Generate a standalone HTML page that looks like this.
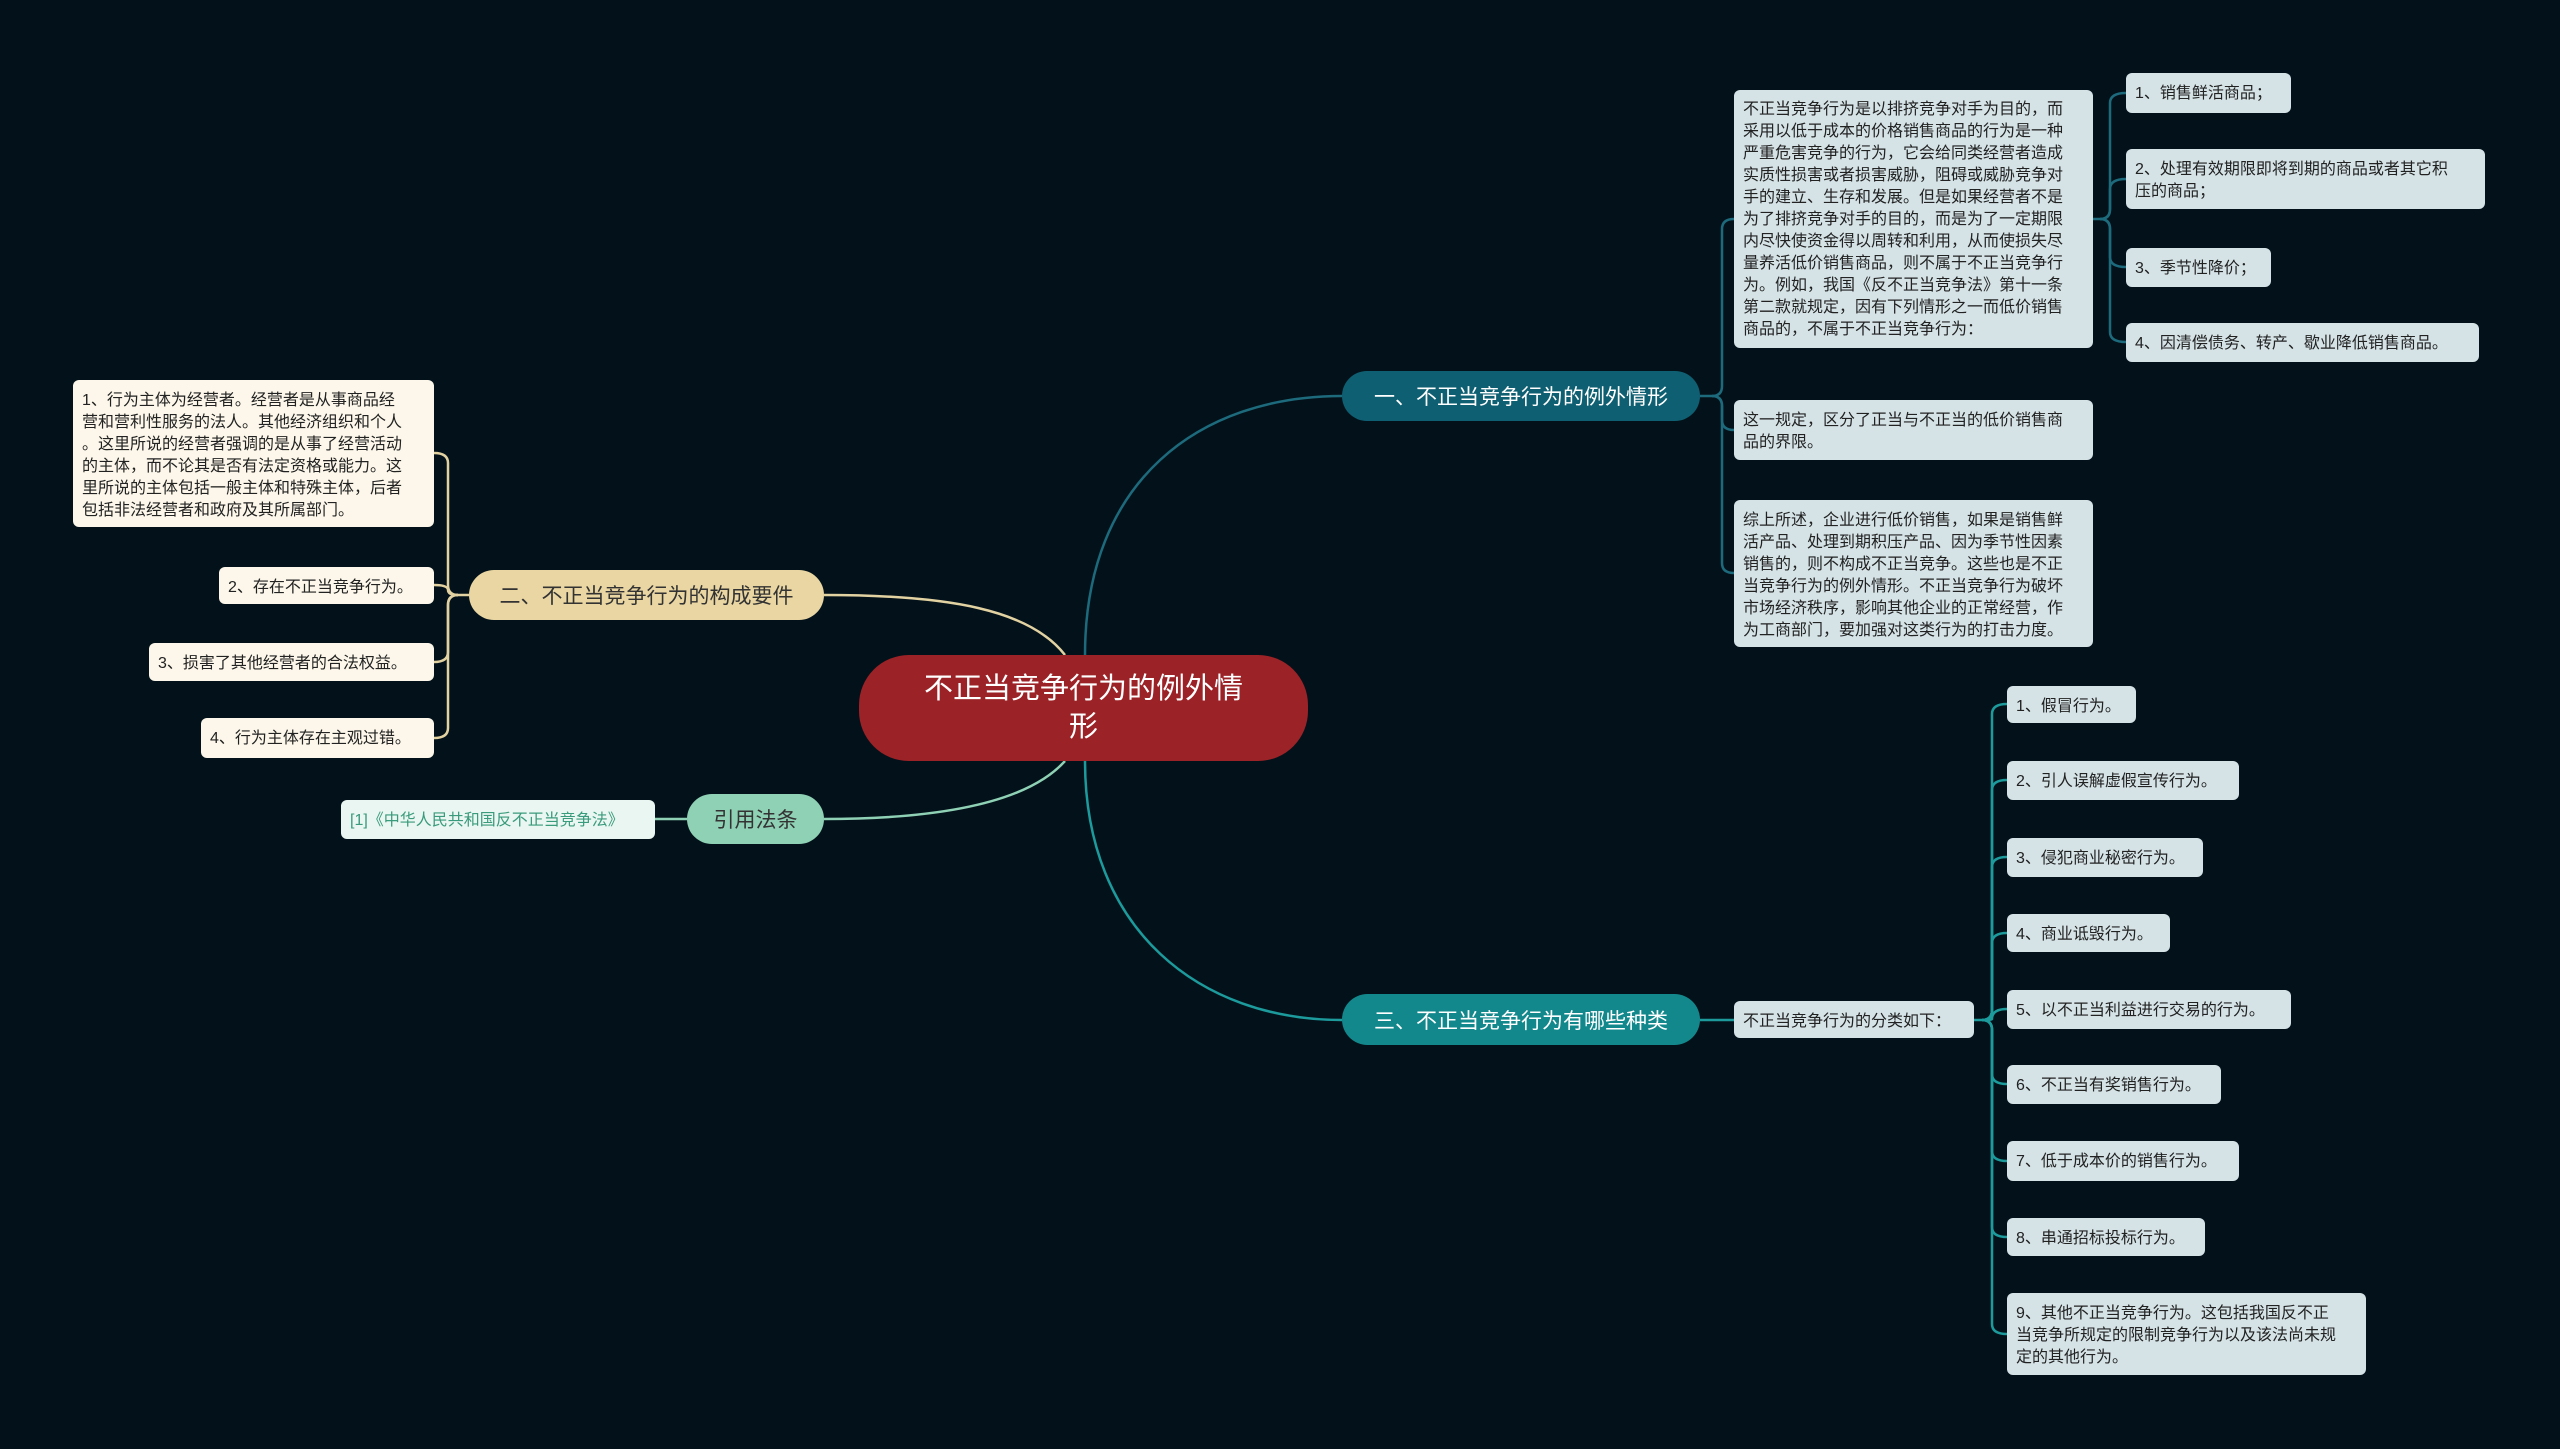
<!DOCTYPE html>
<html><head><meta charset="utf-8"><style>
html,body{margin:0;padding:0}
body{width:2560px;height:1449px;background:#03121a;position:relative;overflow:hidden;font-family:"Liberation Sans","Noto Sans CJK SC",sans-serif}
.b{position:absolute;box-sizing:border-box;border-radius:6px;font-size:16px;line-height:22px;padding:10px 9px 6px;white-space:nowrap;color:#222}
.r{background:#d5e3e7}
.c{background:#fcf7ea}
.n{position:absolute;box-sizing:border-box;display:flex;align-items:center;justify-content:center;border-radius:26px;font-size:21px}
svg{position:absolute;left:0;top:0}
</style></head><body>
<svg width="2560" height="1449" fill="none" stroke-width="2.5">
<g stroke="#1d6a7c">
<path d="M1085,655 C1085,480 1200,396 1342,396"/>
<path d="M1700,396 L1712,396"/>
<path d="M1712,396 Q1722,396 1722,386 L1722,229 Q1722,219 1734,219"/>
<path d="M1712,396 Q1722,396 1722,406 L1722,420 Q1722,430 1734,430"/>
<path d="M1712,396 Q1722,396 1722,406 L1722,563 Q1722,573 1734,573"/>
<path d="M2093,219 L2100,219"/>
<path d="M2100,219 Q2110,219 2110,209 L2110,103 Q2110,93 2126,93"/>
<path d="M2100,219 Q2110,219 2110,209 L2110,189 Q2110,179 2126,179"/>
<path d="M2100,219 Q2110,219 2110,229 L2110,257 Q2110,267 2126,267"/>
<path d="M2100,219 Q2110,219 2110,229 L2110,332 Q2110,342 2126,342"/>
</g>
<g stroke="#1c9a9c">
<path d="M1085,761 C1085,930 1200,1020 1342,1020"/>
<path d="M1700,1020 L1734,1020"/>
<path d="M1974,1020 L1982,1020"/>
<path d="M1982,1020 Q1992,1020 1992,1010 L1992,714 Q1992,704 2007,704"/>
<path d="M1982,1020 Q1992,1020 1992,1010 L1992,790 Q1992,780 2007,780"/>
<path d="M1982,1020 Q1992,1020 1992,1010 L1992,867 Q1992,857 2007,857"/>
<path d="M1982,1020 Q1992,1020 1992,1010 L1992,943 Q1992,933 2007,933"/>
<path d="M1982,1020 Q1992,1020 1992,1019 Q1992,1009 2007,1009"/>
<path d="M1982,1020 Q1992,1020 1992,1030 L1992,1074 Q1992,1084 2007,1084"/>
<path d="M1982,1020 Q1992,1020 1992,1030 L1992,1151 Q1992,1161 2007,1161"/>
<path d="M1982,1020 Q1992,1020 1992,1030 L1992,1227 Q1992,1237 2007,1237"/>
<path d="M1982,1020 Q1992,1020 1992,1030 L1992,1324 Q1992,1334 2007,1334"/>
</g>
<g stroke="#e2d2a2">
<path d="M1065,655 C1030,610 950,595 824,595"/>
<path d="M469,595 L458,595"/>
<path d="M458,595 Q448,595 448,585 L448,463 Q448,453 434,453"/>
<path d="M458,595 Q448,595 448,590 Q448,585 434,585"/>
<path d="M458,595 Q448,595 448,605 L448,652 Q448,662 434,662"/>
<path d="M458,595 Q448,595 448,605 L448,728 Q448,738 434,738"/>
</g>
<g stroke="#8fd1b5">
<path d="M1065,761 C1030,800 950,819 824,819"/>
<path d="M687,819 L655,819"/>
</g>
</svg>

<div class="n" style="left:859px;top:655px;width:449px;height:106px;border-radius:50px;background:#9b2226;color:#fff;font-size:29px;line-height:38px;text-align:center">不正当竞争行为的例外情<br>形</div>
<div class="n" style="left:1342px;top:371px;width:358px;height:50px;background:#0f5f72;color:#fff">一、不正当竞争行为的例外情形</div>
<div class="n" style="left:1342px;top:994px;width:358px;height:51px;background:#13888c;color:#fff">三、不正当竞争行为有哪些种类</div>
<div class="n" style="left:469px;top:570px;width:355px;height:50px;background:#e9d6a2;color:#333">二、不正当竞争行为的构成要件</div>
<div class="n" style="left:687px;top:794px;width:137px;height:50px;background:#8fd1b5;color:#333">引用法条</div>

<div class="b r" style="left:1734px;top:90px;width:359px;height:258px;padding-top:9px">不正当竞争行为是以排挤竞争对手为目的，而<br>采用以低于成本的价格销售商品的行为是一种<br>严重危害竞争的行为，它会给同类经营者造成<br>实质性损害或者损害威胁，阻碍或威胁竞争对<br>手的建立、生存和发展。但是如果经营者不是<br>为了排挤竞争对手的目的，而是为了一定期限<br>内尽快使资金得以周转和利用，从而使损失尽<br>量养活低价销售商品，则不属于不正当竞争行<br>为。例如，我国《反不正当竞争法》第十一条<br>第二款就规定，因有下列情形之一而低价销售<br>商品的，不属于不正当竞争行为：</div>
<div class="b r" style="left:1734px;top:400px;width:359px;height:60px">这一规定，区分了正当与不正当的低价销售商<br>品的界限。</div>
<div class="b r" style="left:1734px;top:500px;width:359px;height:147px">综上所述，企业进行低价销售，如果是销售鲜<br>活产品、处理到期积压产品、因为季节性因素<br>销售的，则不构成不正当竞争。这些也是不正<br>当竞争行为的例外情形。不正当竞争行为破坏<br>市场经济秩序，影响其他企业的正常经营，作<br>为工商部门，要加强对这类行为的打击力度。</div>

<div class="b r" style="left:2126px;top:73px;width:165px;height:40px">1、销售鲜活商品；</div>
<div class="b r" style="left:2126px;top:149px;width:359px;height:60px">2、处理有效期限即将到期的商品或者其它积<br>压的商品；</div>
<div class="b r" style="left:2126px;top:248px;width:145px;height:39px">3、季节性降价；</div>
<div class="b r" style="left:2126px;top:323px;width:353px;height:39px">4、因清偿债务、转产、歇业降低销售商品。</div>

<div class="b r" style="left:1734px;top:1001px;width:240px;height:37px">不正当竞争行为的分类如下：</div>
<div class="b r" style="left:2007px;top:686px;width:129px;height:37px">1、假冒行为。</div>
<div class="b r" style="left:2007px;top:761px;width:232px;height:39px">2、引人误解虚假宣传行为。</div>
<div class="b r" style="left:2007px;top:838px;width:196px;height:39px">3、侵犯商业秘密行为。</div>
<div class="b r" style="left:2007px;top:914px;width:163px;height:38px">4、商业诋毁行为。</div>
<div class="b r" style="left:2007px;top:990px;width:284px;height:39px">5、以不正当利益进行交易的行为。</div>
<div class="b r" style="left:2007px;top:1065px;width:214px;height:39px">6、不正当有奖销售行为。</div>
<div class="b r" style="left:2007px;top:1141px;width:232px;height:40px">7、低于成本价的销售行为。</div>
<div class="b r" style="left:2007px;top:1218px;width:198px;height:38px">8、串通招标投标行为。</div>
<div class="b r" style="left:2007px;top:1293px;width:359px;height:82px">9、其他不正当竞争行为。这包括我国反不正<br>当竞争所规定的限制竞争行为以及该法尚未规<br>定的其他行为。</div>

<div class="b c" style="left:73px;top:380px;width:361px;height:147px">1、行为主体为经营者。经营者是从事商品经<br>营和营利性服务的法人。其他经济组织和个人<br>。这里所说的经营者强调的是从事了经营活动<br>的主体，而不论其是否有法定资格或能力。这<br>里所说的主体包括一般主体和特殊主体，后者<br>包括非法经营者和政府及其所属部门。</div>
<div class="b c" style="left:219px;top:567px;width:215px;height:37px">2、存在不正当竞争行为。</div>
<div class="b c" style="left:149px;top:643px;width:285px;height:38px">3、损害了其他经营者的合法权益。</div>
<div class="b c" style="left:201px;top:718px;width:233px;height:40px">4、行为主体存在主观过错。</div>
<div class="b" style="left:341px;top:800px;width:314px;height:39px;background:#e9f6f1;color:#3a9a7c">[1]《中华人民共和国反不正当竞争法》</div>
</body></html>
